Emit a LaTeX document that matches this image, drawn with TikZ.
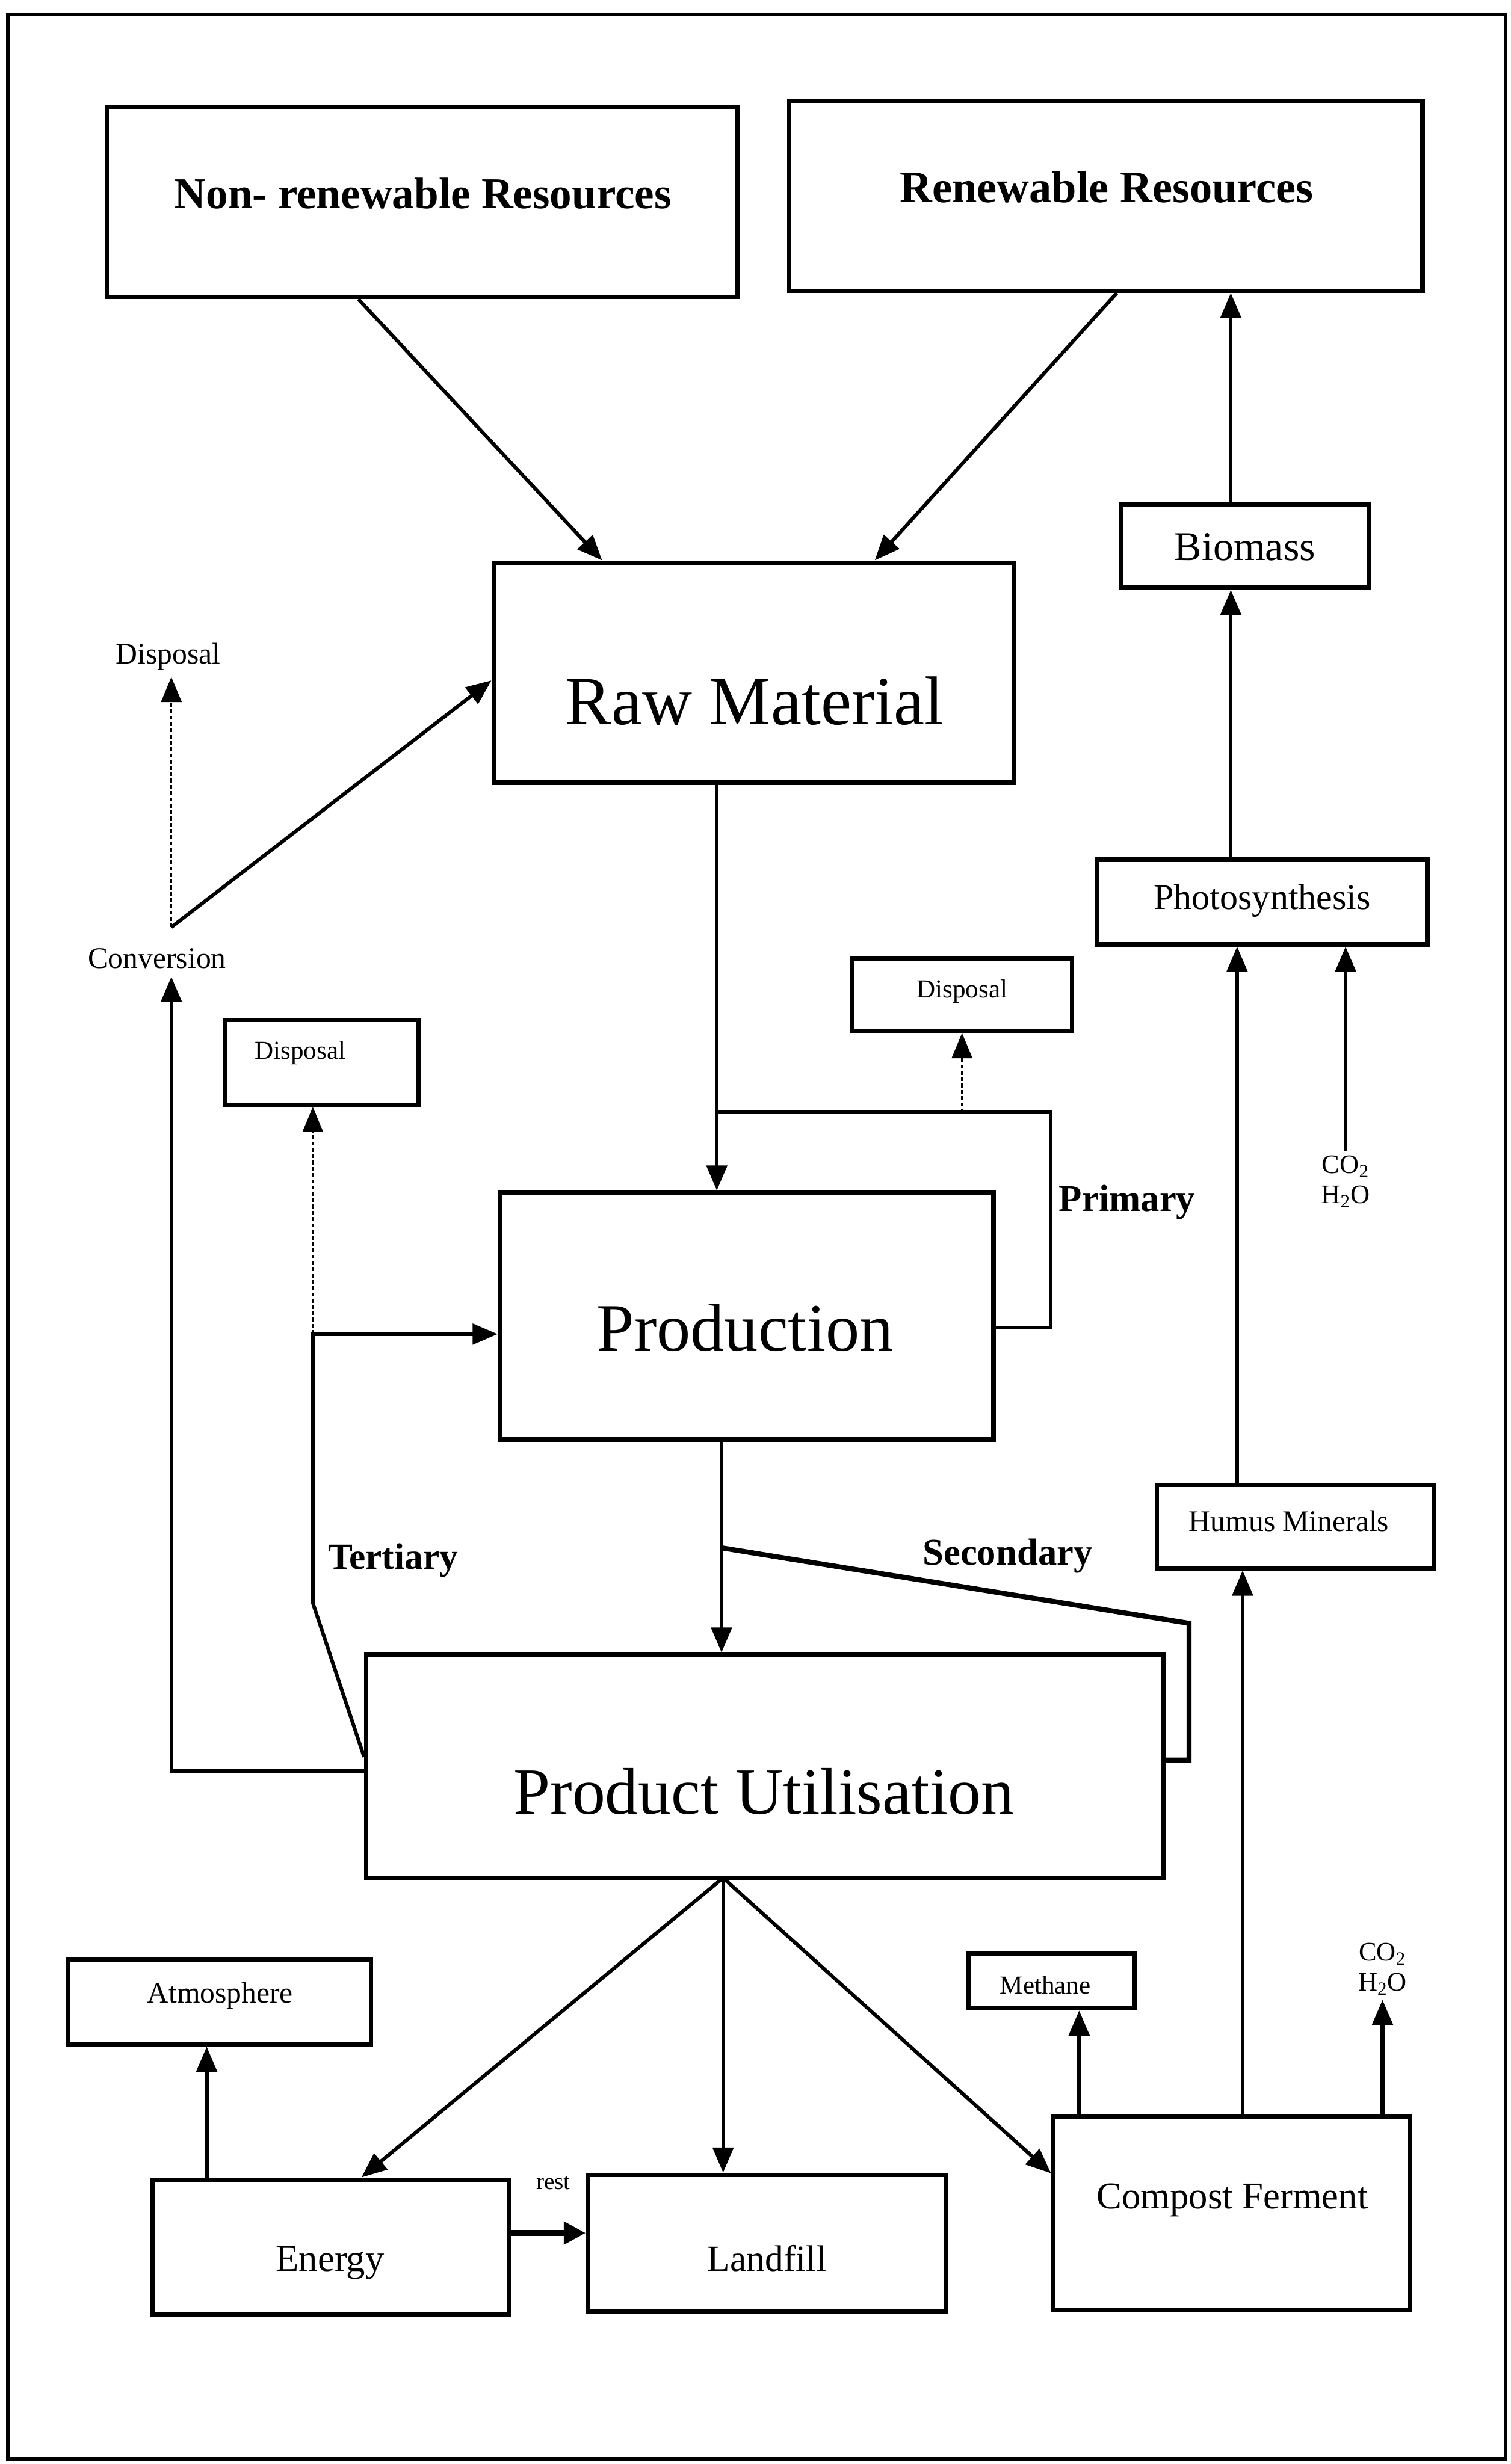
\documentclass[tikz,border=0pt]{standalone}
\usepackage{fontspec}
\setmainfont{Liberation Serif}
\usetikzlibrary{arrows.meta,calc}
\begin{document}
\begin{tikzpicture}[x=1pt,y=-1pt,
  box/.style={draw, line width=2.8pt, inner sep=0pt},
  txt/.style={inner sep=0pt, font=\fontsize{#1}{#1}\selectfont},
  btxt/.style={inner sep=0pt, font=\fontsize{#1}{#1}\selectfont\bfseries},
  chem/.style={inner sep=3pt, align=center, font=\fontsize{17}{19}\selectfont},
  conn/.style={line width=2.3pt, -{Triangle[length=16pt,width=13pt]}},
  dconn/.style={line width=1.3pt, dash pattern=on 2.5pt off 1.5pt, -{Triangle[length=16pt,width=13pt]}},
  plain/.style={line width=2.3pt},
  thickline/.style={line width=3.2pt},
  restarrow/.style={line width=3.8pt, -{Triangle[length=14pt,width=14pt]}}
]
\useasboundingbox (0,0) rectangle (961,1568);
% outer frame
\draw[line width=2.2pt] (5,9) rectangle (958,1565);

% boxes and their labels
\node[box, minimum width=401pt, minimum height=121pt] (nonren) at (268.5,128.5) {};
\node[btxt=28] (nonrenT) at (269,123) {Non- renewable Resources};
\node[box, minimum width=403pt, minimum height=121pt] (renew) at (703.5,124.5) {};
\node[btxt=28.5] (renewT) at (704,119) {Renewable Resources};
\node[box, minimum width=331pt, minimum height=140pt] (raw) at (479.5,428) {};
\node[txt=44] (rawT) at (480,446) {Raw Material};
\node[box, minimum width=158pt, minimum height=53pt] (biomass) at (792,347.5) {};
\node[txt=26] (biomassT) at (792,348) {Biomass};
\node[box, minimum width=210pt, minimum height=54pt] (photo) at (803,574) {};
\node[txt=23] (photoT) at (803,573) {Photosynthesis};
\node[box, minimum width=140pt, minimum height=46pt] (dispR) at (612,633) {};
\node[txt=16.5] (dispRT) at (612,631) {Disposal};
\node[box, minimum width=123pt, minimum height=54pt] (dispL) at (204.5,676) {};
\node[txt=16.5] (dispLT) at (191,670) {Disposal};
\node[box, minimum width=314pt, minimum height=157pt] (prod) at (475,837.5) {};
\node[txt=43] (prodT) at (474,845) {Production};
\node[box, minimum width=176pt, minimum height=53pt] (humus) at (824,971.5) {};
\node[txt=19] (humusT) at (820,968) {Humus Minerals};
\node[box, minimum width=507pt, minimum height=142pt] (pu) at (486.5,1124) {};
\node[txt=42] (puT) at (486,1140) {Product Utilisation};
\node[box, minimum width=193pt, minimum height=54pt] (atmo) at (139.5,1274) {};
\node[txt=19] (atmoT) at (140,1270) {Atmosphere};
\node[box, minimum width=106pt, minimum height=35pt] (methane) at (669,1260.5) {};
\node[txt=16.5] (methaneT) at (665,1263) {Methane};
\node[box, minimum width=227pt, minimum height=86pt] (energy) at (210.5,1430) {};
\node[txt=24] (energyT) at (210,1440) {Energy};
\node[box, minimum width=228pt, minimum height=87pt] (landfill) at (488,1427.5) {};
\node[txt=23.5] (landfillT) at (488,1437) {Landfill};
\node[box, minimum width=227pt, minimum height=123pt] (compost) at (783.5,1408.5) {};
\node[txt=24] (compostT) at (784,1400) {Compost Ferment};

% free labels
\node[txt=19, inner sep=4pt] (dispTL) at (107,418) {Disposal};
\node[txt=19, inner sep=5pt] (conv) at (100,610) {Conversion};
\node[btxt=24] (primary) at (717,765) {Primary};
\node[btxt=23.5] (tertiary) at (250,993) {Tertiary};
\node[btxt=24] (secondary) at (641,990) {Secondary};
\node[chem] (co2a) at (856,752) {CO\textsubscript{2}\\H\textsubscript{2}O};
\node[chem] (co2b) at (879.5,1253) {CO\textsubscript{2}\\H\textsubscript{2}O};
\node[txt=15] (rest) at (352,1389) {rest};

% resources into raw material
\draw[conn] ([xshift=-40.5pt]nonren.south) -- ([xshift=-96.5pt]raw.north);
\draw[conn] ([xshift=7pt]renew.south) -- ([xshift=77pt]raw.north);
\draw[conn] ([xshift=-9pt]biomass.north) -- ([xshift=79.5pt]renew.south);
\draw[conn] ([xshift=-20pt]photo.north) -- ([xshift=-9pt]biomass.south);

% raw material to production, primary loop
\draw[conn] ([xshift=-23.5pt]raw.south) -- ([xshift=-19pt]prod.north);
\coordinate (pjoin) at (456,708);
\draw[plain] (pjoin) -| ([xshift=35pt,yshift=-7.5pt]prod.east) -- ([yshift=-7.5pt]prod.east);
\draw[dconn] (dispR.south |- pjoin) -- (dispR.south);

% production to product utilisation, secondary loop
\draw[conn] ([xshift=-16pt]prod.south) -- ([xshift=-27.5pt]pu.north);
\coordinate (sjoin) at (459,985);
\draw[thickline] (sjoin) -- ([xshift=15pt,yshift=91pt]pu.east) -- ([xshift=15pt,yshift=4pt]pu.east) -- ([yshift=4pt]pu.east);

% tertiary loop
\coordinate (tbend) at (199,1020);
\coordinate (tcorner) at (199,849);
\draw[conn] ([yshift=6pt]pu.west) -- (tbend) |- ([yshift=-11.5pt]prod.west);
\draw[dconn] (tcorner) -- (tcorner |- dispL.south);

% conversion
\draw[conn] ([yshift=-3pt]pu.west) -| ([xshift=9pt]conv.south);
\coordinate (cv) at (109,590);
\draw[conn] (cv) -- ([yshift=-5pt]raw.west);
\draw[dconn] (cv) -- (cv |- dispTL.south);

% end of life
\coordinate (pub) at (460,1195);
\draw[conn] (pub) -- ([xshift=19.5pt]energy.north);
\draw[conn] (pub) -- (pub |- landfill.north);
\draw[conn] (pub) -- ([yshift=25.5pt]compost.west);
\draw[conn] ([xshift=-79pt]energy.north) -- ([xshift=-8pt]atmo.south);
\draw[restarrow] ([yshift=9pt]energy.east) -- ([yshift=6.5pt]landfill.west);
\draw[conn] ([xshift=-97pt]compost.north) -- ([xshift=17.5pt]methane.south);
\draw[conn] ([xshift=7pt]compost.north) -- ([xshift=-33.5pt]humus.south);
\draw[conn] ([xshift=96pt]compost.north) -- (co2b.south);

% nutrient cycle back to photosynthesis
\draw[conn] ([xshift=-37pt]humus.north) -- ([xshift=-16pt]photo.south);
\draw[conn] (co2a.north) -- (co2a.north |- photo.south);
\end{tikzpicture}
\end{document}
